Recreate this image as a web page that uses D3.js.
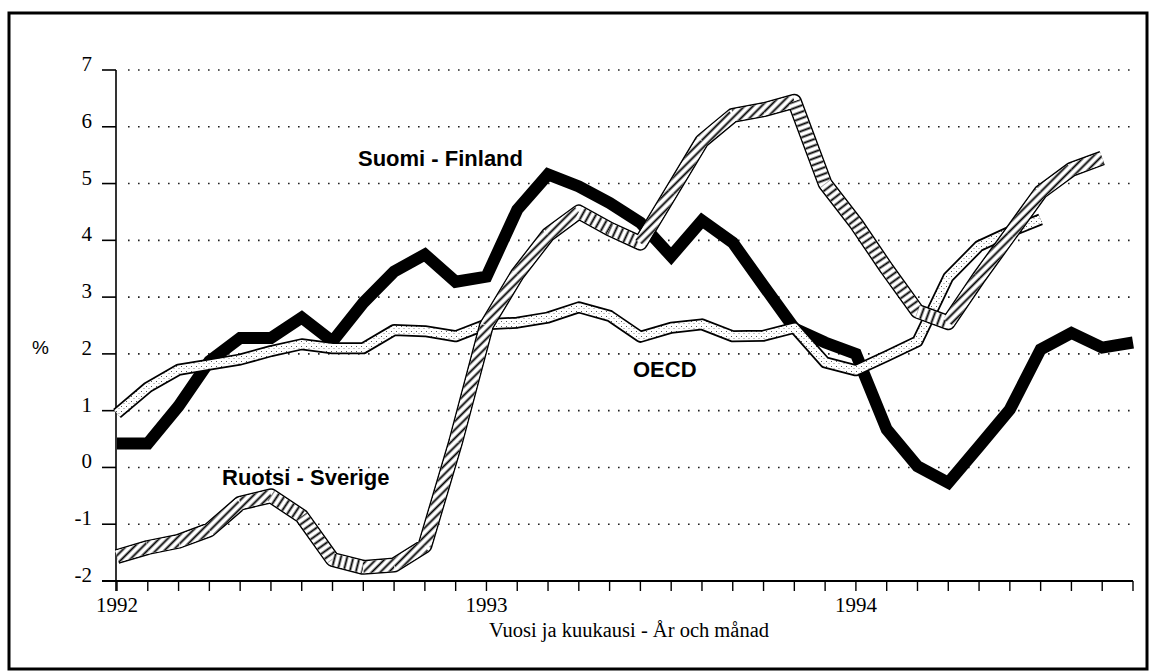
<!DOCTYPE html>
<html><head><meta charset="utf-8">
<script src="https://cdn.jsdelivr.net/npm/d3@7"></script>
<style>body{margin:0;background:#fff} svg{display:block}</style>
</head><body>
<svg id="c" width="1150" height="672"></svg>
<script>
// ---- data ----
const yTicks = [-2,-1,0,1,2,3,4,5,6,7];
const gridTicks = [-1,0,1,2,3,4,5,6,7];
const yearTicks = [0,12,24];
const yearLabels = ["1992","1993","1994"];
const monthTicks = d3.range(0,34);
const finland = [0.42,0.42,1.08,1.87,2.28,2.28,2.64,2.22,2.9,3.45,3.75,3.27,3.36,4.54,5.16,4.95,4.66,4.31,3.72,4.35,3.96,3.2,2.45,2.2,2.0,0.67,0.02,-0.27,0.37,1.02,2.08,2.37,2.11,2.2];
const oecd = [0.95,1.41,1.72,1.81,1.9,2.05,2.17,2.1,2.1,2.42,2.4,2.31,2.52,2.55,2.64,2.82,2.67,2.3,2.46,2.52,2.31,2.32,2.46,1.85,1.71,1.96,2.22,3.35,3.9,4.15,4.37];
const sweden = [-1.57,-1.41,-1.3,-1.1,-0.63,-0.5,-0.86,-1.62,-1.76,-1.72,-1.38,0.45,2.5,3.4,4.1,4.5,4.2,3.95,4.85,5.75,6.2,6.3,6.45,5.0,4.3,3.5,2.75,2.55,3.35,4.1,4.85,5.25,5.45];
const seriesLabels = {finland:"Suomi - Finland", sweden:"Ruotsi - Sverige", oecd:"OECD"};
const yUnit = "%";
const xTitle = "Vuosi ja kuukausi - År och månad";

// ---- drawing ----
const svg = d3.select("#c");
const x = d3.scaleLinear().domain([0,33]).range([117,1133]);
const y = d3.scaleLinear().domain([-2,7]).range([581,70]);
const serif = "'Liberation Serif','Times New Roman',serif";
const sans = "'Liberation Sans',Arial,sans-serif";

// frame
svg.append("rect").attr("x",9).attr("y",13).attr("width",1138).attr("height",656)
  .attr("fill","none").attr("stroke","#000").attr("stroke-width",3);

const defs = svg.append("defs");
const st = defs.append("pattern").attr("id","stip").attr("patternUnits","userSpaceOnUse")
  .attr("width",5).attr("height",5);
st.append("rect").attr("width",5).attr("height",5).attr("fill","#fff");
st.append("rect").attr("x",1).attr("y",1).attr("width",1).attr("height",1).attr("fill","#555");
st.append("rect").attr("x",3.5).attr("y",3).attr("width",1).attr("height",1).attr("fill","#888");

function hatch(id, angle){
  const p = defs.append("pattern").attr("id",id).attr("patternUnits","userSpaceOnUse")
    .attr("width",6).attr("height",6).attr("patternTransform",`rotate(${angle})`);
  p.append("rect").attr("width",6).attr("height",6).attr("fill","#fff");
  p.append("line").attr("x1",1.5).attr("x2",1.5).attr("y1",-1).attr("y2",7)
    .attr("stroke","#000").attr("stroke-width",1.9);
}
hatch("hup",45);

// gridlines
svg.append("g").selectAll("line").data(gridTicks).join("line")
  .attr("x1",128).attr("x2",1130).attr("y1",d=>y(d)).attr("y2",d=>y(d))
  .attr("stroke","#222").attr("stroke-width",1.6).attr("stroke-dasharray","1.6 8.4");

// y axis
const ya = svg.append("g");
ya.append("line").attr("x1",116).attr("x2",116).attr("y1",y(7)).attr("y2",y(-2)+10)
  .attr("stroke","#000").attr("stroke-width",1.6);
ya.selectAll(".t").data(yTicks).join("line").attr("class","t")
  .attr("x1",102).attr("x2",116).attr("y1",d=>y(d)).attr("y2",d=>y(d))
  .attr("stroke","#000").attr("stroke-width",1.6);
ya.selectAll("text").data(yTicks).join("text")
  .attr("x",92).attr("y",d=>y(d)+1).attr("text-anchor","end")
  .attr("font-family",serif).attr("font-size",21).text(d=>d);
svg.append("text").attr("x",32).attr("y",y(2)).attr("font-family",sans).attr("font-size",19).text(yUnit);

// x axis
const xa = svg.append("g");
xa.append("line").attr("x1",102).attr("x2",x(33)).attr("y1",581).attr("y2",581)
  .attr("stroke","#000").attr("stroke-width",1.8);
xa.selectAll(".t").data(monthTicks).join("line").attr("class","t")
  .attr("x1",d=>x(d)).attr("x2",d=>x(d)).attr("y1",581).attr("y2",591)
  .attr("stroke","#000").attr("stroke-width",1.4);
xa.selectAll("text").data(yearTicks).join("text")
  .attr("x",d=>x(d)).attr("y",612).attr("text-anchor","middle")
  .attr("font-family",serif).attr("font-size",21).text((d,i)=>yearLabels[i]);
svg.append("text").attr("x",629).attr("y",637).attr("text-anchor","middle")
  .attr("font-family",serif).attr("font-size",20.5).text(xTitle);

const line = d3.line().x((d,i)=>x(i)).y(d=>y(d));

// Finland
svg.append("path").attr("d",line(finland)).attr("fill","none")
  .attr("stroke","#000").attr("stroke-width",12).attr("stroke-linejoin","miter").attr("stroke-miterlimit",3);

// OECD
svg.append("path").attr("d",line(oecd)).attr("fill","none")
  .attr("stroke","#000").attr("stroke-width",12).attr("stroke-linejoin","round");
svg.append("path").attr("d",line(oecd)).attr("fill","none")
  .attr("stroke","url(#stip)").attr("stroke-width",8.5).attr("stroke-linejoin","round");

// Sweden
svg.append("path").attr("d",line(sweden)).attr("fill","none")
  .attr("stroke","#000").attr("stroke-width",15).attr("stroke-linejoin","round");
svg.append("path").attr("d",line(sweden)).attr("fill","none")
  .attr("stroke","#fff").attr("stroke-width",12).attr("stroke-linejoin","round");
const sg = svg.append("g");
for(let i=0;i<sweden.length-1;i++){
  const x1=x(i), y1=y(sweden[i]), x2=x(i+1), y2=y(sweden[i+1]);
  let pid = "hup";
  if (y2 > y1) { // falling segment: hatch perpendicular to the ribbon
    const ang = Math.atan2(y2-y1,x2-x1)*180/Math.PI;
    pid = "hdn"+i; hatch(pid, ang);
  }
  sg.append("line").attr("x1",x1).attr("y1",y1).attr("x2",x2).attr("y2",y2)
    .attr("stroke",`url(#${pid})`).attr("stroke-width",12).attr("stroke-linecap","butt");
}

// series labels
const lab = svg.append("g").attr("font-family",sans).attr("font-weight","bold").attr("font-size",22);
lab.append("text").attr("x",358).attr("y",166).text(seriesLabels.finland);
lab.append("text").attr("x",222).attr("y",485).text(seriesLabels.sweden);
lab.append("text").attr("x",633).attr("y",377).text(seriesLabels.oecd);
</script>
</body></html>
